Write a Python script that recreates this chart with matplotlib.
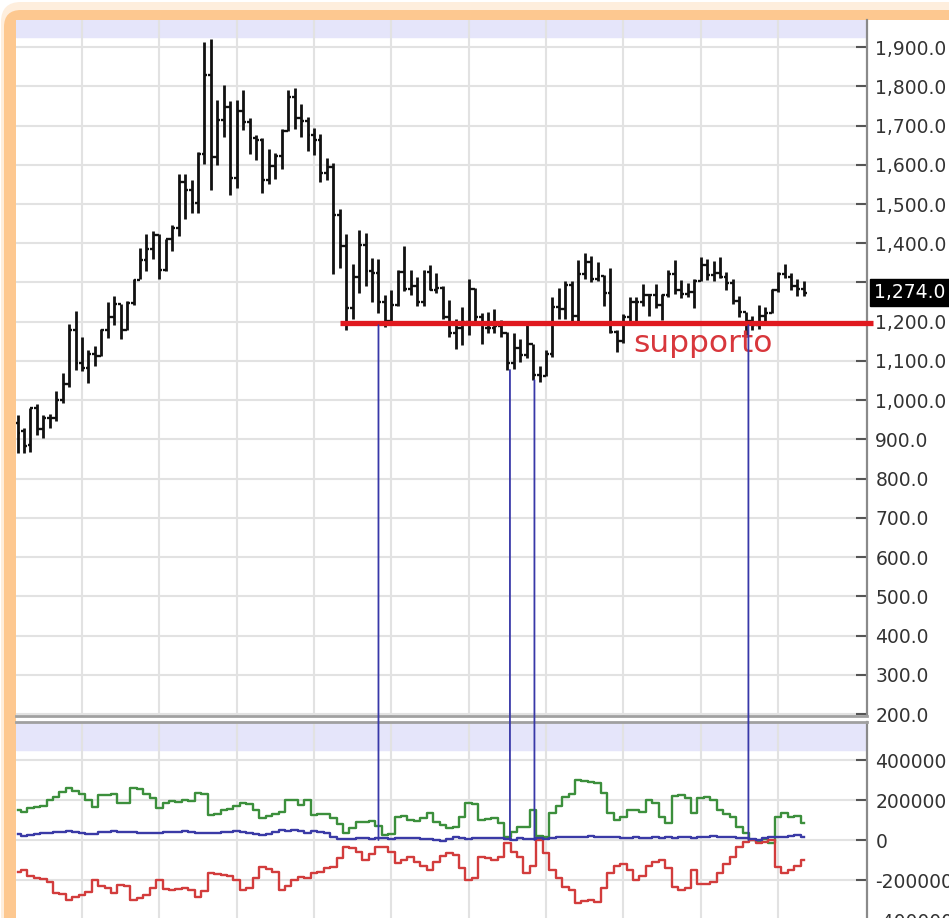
import numpy as np
import matplotlib
matplotlib.use("Agg")
import matplotlib.pyplot as plt
from matplotlib.patches import FancyBboxPatch, ConnectionPatch
from matplotlib.ticker import FuncFormatter

# Monthly bars, Mar 2009 .. May 2019
opens = [942, 921, 886, 980, 926, 954, 955, 1001, 1040, 1180,
         1096, 1083, 1118, 1113, 1179, 1213, 1244, 1180, 1248, 1307, 1357, 1386,
         1421, 1332, 1410, 1439, 1556, 1536, 1502, 1628, 1828, 1620, 1714, 1747,
         1566, 1738, 1710, 1669, 1664, 1560, 1598, 1622, 1687, 1773, 1719, 1712,
         1675, 1662, 1579, 1595, 1472, 1393, 1234, 1313, 1395, 1328, 1323, 1251,
         1202, 1242, 1326, 1284, 1292, 1250, 1327, 1282, 1287, 1211, 1171, 1183,
         1199, 1284, 1213, 1183, 1183, 1190, 1172, 1095, 1133, 1115, 1142, 1065,
         1061, 1118, 1238, 1233, 1293, 1215, 1322, 1351, 1309, 1316, 1273, 1173,
         1152, 1211, 1249, 1249, 1268, 1268, 1242, 1269, 1322, 1280, 1271, 1275,
         1303, 1345, 1318, 1325, 1315, 1299, 1252, 1224, 1201, 1192, 1215, 1222,
         1282, 1321, 1313, 1292, 1284]
highs = [961, 928, 981, 990, 962, 965, 1024, 1070, 1195, 1227,
         1162, 1128, 1138, 1181, 1249, 1265, 1245, 1252, 1310, 1387, 1424, 1432,
         1424, 1412, 1447, 1576, 1577, 1560, 1632, 1912, 1921, 1764, 1803, 1763,
         1764, 1791, 1720, 1677, 1668, 1641, 1631, 1692, 1790, 1796, 1755, 1723,
         1694, 1678, 1617, 1605, 1488, 1424, 1348, 1434, 1425, 1362, 1361, 1267,
         1280, 1332, 1392, 1331, 1315, 1332, 1345, 1323, 1290, 1255, 1208, 1238,
         1308, 1287, 1223, 1224, 1233, 1205, 1174, 1170, 1157, 1191, 1143, 1088,
         1128, 1263, 1287, 1304, 1304, 1358, 1375, 1367, 1353, 1318, 1338, 1180,
         1220, 1264, 1262, 1296, 1271, 1296, 1270, 1331, 1357, 1306, 1299, 1309,
         1366, 1361, 1356, 1365, 1326, 1309, 1266, 1225, 1214, 1243, 1237, 1284,
         1326, 1347, 1324, 1310, 1303]
lows = [866, 865, 867, 912, 903, 930, 946, 992, 1034, 1076,
        1075, 1045, 1087, 1112, 1159, 1192, 1155, 1180, 1242, 1310, 1329, 1361,
        1308, 1329, 1381, 1418, 1462, 1478, 1478, 1602, 1535, 1600, 1670, 1523,
        1540, 1689, 1628, 1613, 1527, 1552, 1563, 1588, 1685, 1692, 1672, 1636,
        1626, 1555, 1562, 1321, 1338, 1180, 1208, 1272, 1292, 1251, 1221, 1187,
        1203, 1240, 1277, 1268, 1240, 1240, 1281, 1273, 1206, 1160, 1131, 1141,
        1167, 1191, 1142, 1170, 1170, 1162, 1077, 1080, 1098, 1107, 1052, 1046,
        1061, 1111, 1208, 1208, 1199, 1200, 1310, 1301, 1303, 1241, 1171, 1123,
        1146, 1201, 1195, 1241, 1214, 1236, 1205, 1263, 1271, 1261, 1264, 1236,
        1303, 1307, 1303, 1312, 1282, 1245, 1211, 1160, 1180, 1182, 1196, 1221,
        1276, 1311, 1281, 1266, 1266]
closes = [916, 884, 979, 927, 954, 955, 1001, 1040, 1180, 1096,
          1083, 1118, 1113, 1179, 1213, 1244, 1180, 1248, 1307, 1357, 1386, 1421,
          1332, 1410, 1439, 1556, 1536, 1502, 1628, 1828, 1620, 1714, 1747, 1566,
          1738, 1710, 1669, 1664, 1560, 1598, 1622, 1687, 1773, 1719, 1712, 1675,
          1662, 1579, 1595, 1472, 1393, 1234, 1313, 1395, 1328, 1323, 1251, 1202,
          1242, 1326, 1284, 1292, 1250, 1327, 1282, 1287, 1211, 1171, 1183, 1199,
          1284, 1213, 1183, 1183, 1190, 1172, 1095, 1133, 1115, 1142, 1065, 1061,
          1118, 1238, 1233, 1293, 1215, 1322, 1351, 1309, 1316, 1273, 1173, 1152,
          1211, 1249, 1249, 1268, 1268, 1242, 1269, 1322, 1280, 1271, 1275, 1303,
          1345, 1318, 1325, 1315, 1299, 1252, 1224, 1201, 1192, 1215, 1222, 1282,
          1321, 1313, 1292, 1284, 1274]

# lower panel: net positions (thousands of contracts)
green_pos = [150, 140, 160, 165, 170, 200, 215, 240, 260, 245, 230, 200, 165, 225, 225,
             230, 185, 185, 260, 255, 230, 210, 160, 185, 195, 190, 200, 195, 235, 230,
             125, 130, 150, 155, 170, 185, 180, 150, 110, 120, 130, 140, 200, 200, 175,
             200, 125, 130, 130, 110, 80, 35, 60, 90, 90, 95, 70, 25, 30, 115,
             120, 100, 95, 110, 135, 90, 75, 60, 65, 115, 185, 180, 100, 105, 110,
             85, 15, 40, 65, 65, 150, 20, 15, 135, 170, 215, 230, 300, 295, 290,
             285, 235, 135, 100, 115, 150, 150, 140, 200, 185, 115, 85, 220, 225, 210,
             135, 210, 215, 200, 150, 130, 115, 65, 35, 0, -10, 5, -15, 115, 135,
             115, 120, 85]
red_pos = [-160, -150, -180, -190, -195, -210, -265, -270, -300, -285, -275, -260, -200, -230, -240,
           -265, -225, -230, -300, -290, -275, -240, -200, -245, -250, -245, -240, -250, -285, -255,
           -165, -170, -175, -180, -200, -250, -240, -190, -135, -145, -160, -250, -230, -200, -185,
           -190, -165, -160, -140, -135, -90, -35, -40, -60, -100, -70, -35, -35, -60, -115,
           -100, -85, -110, -130, -150, -110, -80, -65, -75, -140, -200, -190, -85, -90, -100,
           -85, -15, -60, -85, -165, -130, 0, -65, -150, -190, -235, -250, -315, -305, -300,
           -310, -240, -165, -130, -120, -150, -200, -180, -130, -110, -100, -140, -235, -250, -240,
           -150, -220, -220, -210, -165, -120, -85, -35, -10, 0, -15, -10, 0, -135, -165,
           -150, -130, -100]
blue_pos = [30, 20, 25, 30, 35, 35, 40, 40, 45, 40, 35, 30, 30, 40, 40,
            45, 40, 40, 40, 35, 35, 35, 35, 40, 40, 40, 45, 40, 35, 35,
            35, 35, 40, 40, 45, 40, 35, 30, 25, 30, 40, 50, 45, 50, 45,
            35, 45, 40, 35, 15, 5, 5, 5, 10, 10, 5, 10, 10, 5, 10,
            10, 10, 10, 5, 5, 0, -5, 5, 15, 10, 5, 10, 10, 10, 10,
            10, 5, 0, 10, 5, 5, 10, 5, 10, 15, 15, 15, 15, 15, 20,
            15, 15, 15, 15, 10, 10, 15, 10, 10, 15, 10, 15, 10, 15, 15,
            10, 15, 15, 20, 15, 15, 15, 10, 10, 5, 0, 10, 15, 15, 15,
            20, 25, 15]

year_starts = [10, 22, 34, 46, 58, 70, 82, 94, 106, 118]   # January bars
support_level = 1197
last_price = 1274.0
touch_bars = [56, 76.4, 80.2, 113.4]
touch_prices = [1191, 1077, 1051, 1191]

x = np.arange(len(closes))

fig = plt.figure(figsize=(9.49, 9.18), dpi=100)
fig.patch.set_facecolor("white")

# orange frame with rounded corner
glow = FancyBboxPatch((0.01, -1), 11, 9.16 + 1, boxstyle="round,pad=0,rounding_size=0.2",
                      transform=fig.dpi_scale_trans, fc="#feeedd", ec="none", zorder=0)
frame = FancyBboxPatch((0.04, -1), 11, 9.08 + 1, boxstyle="round,pad=0,rounding_size=0.17",
                       transform=fig.dpi_scale_trans, fc="#fdc890", ec="none", zorder=0)
inner = FancyBboxPatch((0.16, -1), 11, 8.98 + 1, boxstyle="square,pad=0",
                       transform=fig.dpi_scale_trans, fc="white", ec="none", zorder=0)
for p in (glow, frame, inner):
    fig.add_artist(p)

W, H = 949, 918
ax = fig.add_axes([16 / W, 1 - 716 / H, (867 - 16) / W, (716 - 20) / H])
ax2 = fig.add_axes([16 / W, 1 - 960 / H, (867 - 16) / W, (960 - 722) / H])

grid_c = "#e2e2e2"
band_c = "#e5e5fa"

# price panel
ax.set_xlim(-0.24, 131.8)
ax.set_ylim(195, 1969)
ax.axhspan(1925, 2000, color=band_c, zorder=0)
ax.set_yticks(np.arange(200, 2000, 100))
# the 1,300 label sits under the last-price box, so leave it blank
ax.yaxis.set_major_formatter(FuncFormatter(
    lambda v, p: "" if abs(v - 1300) < 1 else "{:,.1f}".format(v)))
ax.set_xticks(year_starts)
ax.tick_params(axis="x", length=0, labelbottom=False)
ax.yaxis.tick_right()
ax.tick_params(axis="y", direction="in", length=8, width=1.5, color="#555555",
               pad=6, labelsize=13.5, labelcolor="#333333")
ax.grid(True, color=grid_c, lw=1.5, zorder=0)
ax.set_axisbelow(True)
for s in ("top", "left"):
    ax.spines[s].set_visible(False)
ax.spines["right"].set_color("#8a8a8a")
ax.spines["right"].set_linewidth(1.6)
ax.spines["bottom"].set_color("#a0a0a0")
ax.spines["bottom"].set_linewidth(2)

# OHLC bars
bar_c = "#111111"
ax.vlines(x, lows, highs, color=bar_c, lw=2.0, zorder=3)
ax.hlines(opens, x - 0.45, x, color=bar_c, lw=1.7, zorder=3)
ax.hlines(closes, x, x + 0.45, color=bar_c, lw=1.7, zorder=3)

# support line and label
ax.plot([50.0, 132.7], [support_level, support_level], color="#e0191f", lw=3.8,
        solid_capstyle="butt", zorder=4, clip_on=False)
ax.text(95.5, 1123, "supporto", color="#d8373c", fontsize=22.5, va="baseline", ha="left", zorder=5)

# last price box
ax.text(1.0 + 7 / (867 - 16), last_price, "{:,.1f}".format(last_price),
        transform=ax.get_yaxis_transform(), ha="left", va="center", color="white",
        fontsize=13.5, zorder=10, clip_on=False,
        bbox=dict(boxstyle="square,pad=0.2", fc="black", ec="black"))

# lower panel
ax2.set_xlim(-0.24, 131.8)
ax2.set_ylim(-600000, 590000)
ax2.axhspan(450000, 600000, color=band_c, zorder=0)
cot_ticks = [400000, 200000, 0, -200000, -400000]
ax2.set_yticks(cot_ticks)
ax2.set_yticklabels([str(t) for t in cot_ticks])
ax2.set_xticks(year_starts)
ax2.tick_params(axis="x", length=0, labelbottom=False)
ax2.yaxis.tick_right()
ax2.tick_params(axis="y", direction="in", length=8, width=1.5, color="#555555",
                pad=6, labelsize=13.5, labelcolor="#333333")
ax2.grid(True, color=grid_c, lw=1.5, zorder=0)
ax2.set_axisbelow(True)
for s in ("left", "bottom"):
    ax2.spines[s].set_visible(False)
ax2.spines["right"].set_color("#8a8a8a")
ax2.spines["right"].set_linewidth(1.6)
ax2.spines["top"].set_color("#a0a0a0")
ax2.spines["top"].set_linewidth(2)

ax2.step(x, np.array(green_pos) * 1000, where="mid", color="#3c8f3c", lw=1.7, zorder=3)
ax2.step(x, np.array(red_pos) * 1000, where="mid", color="#d23c3c", lw=1.7, zorder=3)
ax2.step(x, np.array(blue_pos) * 1000, where="mid", color="#3a3aa6", lw=1.7, zorder=4)

# blue markers linking price touches to the positioning panel
for bx, by in zip(touch_bars, touch_prices):
    con = ConnectionPatch(xyA=(bx, by), coordsA=ax.transData, xyB=(bx, 0), coordsB=ax2.transData,
                          color="#3838a8", lw=1.3, zorder=6)
    fig.add_artist(con)

fig.savefig("out.png", dpi=100)
